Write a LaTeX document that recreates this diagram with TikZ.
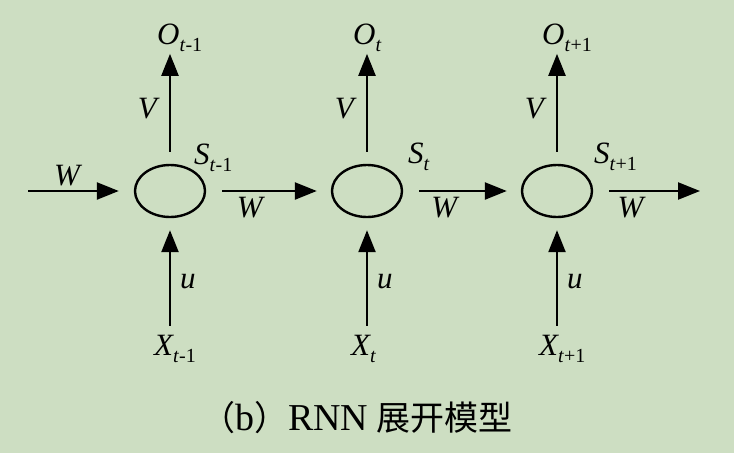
\documentclass[tikz,border=0pt]{standalone}
\usepackage{fontspec}
\setmainfont{Liberation Serif}
\newfontfamily\cjk{Noto Sans CJK SC}
\usetikzlibrary{arrows.meta,shapes.geometric,calc}
\definecolor{paper}{RGB}{205,222,194}
\definecolor{ink}{RGB}{0,0,0}
\newcommand{\tsub}[1]{\raisebox{-0.24em}{\fontsize{20}{22}\selectfont\textit{t}\textup{#1}}}
\tikzset{
  every picture/.style={color=ink, line width=2.4pt},
  cell/.style={ellipse, draw, minimum width=70pt, minimum height=52pt, inner sep=0pt},
  var/.style={font=\fontsize{31}{34}\selectfont\itshape, inner sep=1pt},
  wt/.style={font=\fontsize{31}{34}\selectfont\itshape, inner sep=2pt},
  flow/.style={-{Triangle[length=22pt,width=17pt]}},
  caption/.style={font=\fontsize{34}{38}\selectfont},
}

\begin{document}
\begin{tikzpicture}[x=1pt, y=-1pt]
  \fill[paper] (0,0) rectangle (734,453);
  % hidden states, one per time step
  \node[cell] (s1) at (170,191) {};
  \node[cell] (s2) at (367,191) {};
  \node[cell] (s3) at (557,191) {};
  \node[var, anchor=base west] (st1) at (192,164) {S\tsub{-1}};
  \node[var, anchor=base west] (st2) at (406,163) {S\tsub{}};
  \node[var, anchor=base west] (st3) at (592,163) {S\tsub{+1}};
  % outputs and inputs
  \node[var, anchor=base west] (o1) at (155,44) {O\tsub{-1}};
  \node[var, anchor=base west] (o2) at (351,44) {O\tsub{}};
  \node[var, anchor=base west] (o3) at (540,44) {O\tsub{+1}};
  \node[var, anchor=base west] (x1) at (152,355) {X\tsub{-1}};
  \node[var, anchor=base west] (x2) at (349,355) {X\tsub{}};
  \node[var, anchor=base west] (x3) at (537,355) {X\tsub{+1}};
  \coordinate (in) at (28,191);
  \coordinate (out) at (700,191);
  % recurrent weight W
  \draw[flow, shorten >=15pt] (in) -- node[wt, above, pos=0.37, yshift=2pt] {W} (s1.west);
  \draw[flow, shorten <=16pt, shorten >=14pt] (s1.east) -- node[wt, below, pos=0.35, yshift=-3pt] {W} (s2.west);
  \draw[flow, shorten <=16pt, shorten >=14pt] (s2.east) -- node[wt, below, pos=0.35, yshift=-3pt] {W} (s3.west);
  \draw[flow, shorten <=16pt] (s3.east) -- node[wt, below, pos=0.35, yshift=-3pt] {W} (out);
  % output weight V, input weight u
  \foreach \i in {1,2,3} {
    \draw[flow, shorten <=12pt] (s\i.north) -- node[wt, left, pos=0.5, xshift=-10pt] {V} (s\i.north |- o\i.south);
    \draw[flow, shorten <=7pt, shorten >=12pt] (s\i.south |- x\i.north) -- node[wt, right, pos=0.45, xshift=7pt] {u} (s\i.south);
  }
  \node[caption] (cap) at (357,418) {{\cjk （}{\fontsize{38}{40}\selectfont b}{\cjk ）}{\fontsize{38}{40}\selectfont RNN} {\cjk 展开模型}};
\end{tikzpicture}
\end{document}
